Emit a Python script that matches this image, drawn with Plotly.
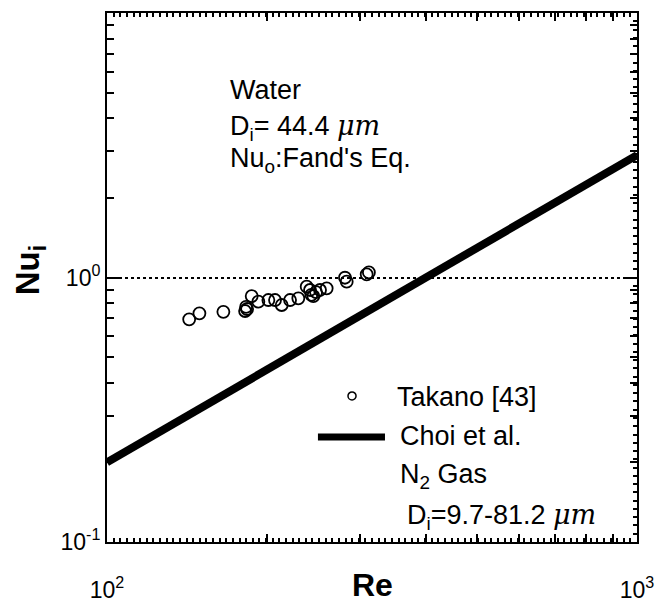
import plotly.graph_objects as go

# Takano [43] measurements (water, Di = 44.4 um)
takano_re = [142.9, 149.4, 165.8, 182.2, 183.8, 183.0, 187.5, 193.0, 201.6, 207.5,
             213.6, 221.5, 229.6, 238.1, 241.6, 245.1, 243.0, 248.0, 252.3, 259.7,
             281.2, 283.3, 309.0, 312.0]
takano_nu = [0.695, 0.732, 0.742, 0.747, 0.760, 0.774, 0.851, 0.810, 0.822, 0.822,
             0.787, 0.822, 0.834, 0.923, 0.897, 0.851, 0.860, 0.880, 0.897, 0.910,
             0.998, 0.964, 1.028, 1.045]

# Choi et al. correlation (N2 gas) over the plotted Re range
choi_re = [100, 1000]
choi_nu = [0.2, 2.9]

x_major = [100, 1000]
x_major_text = ["10<sup>2</sup>", "10<sup>3</sup>"]
x_minor = [200, 300, 400, 500, 600, 700, 800, 900]
y_major = [0.1, 1, 10]
y_major_text = ["10<sup>-1</sup>", "10<sup>0</sup>", "10<sup>1</sup>"]
y_minor = [0.2, 0.3, 0.4, 0.5, 0.6, 0.7, 0.8, 0.9, 2, 3, 4, 5, 6, 7, 8, 9]

TICKFONT = dict(family="Liberation Sans Narrow, Liberation Sans, Arial", size=23, color="black")
TEXTFONT = dict(family="Liberation Sans, Arial", size=27, color="black")
MU = '<span style="font-family:DejaVu Serif"><i>μm</i></span>'

fig = go.Figure()

fig.add_trace(go.Scatter(
    x=takano_re, y=takano_nu, mode="markers",
    marker=dict(symbol="circle-open", size=12, color="black", line=dict(width=1.8, color="black")),
    showlegend=False, hoverinfo="skip"))

fig.add_trace(go.Scatter(
    x=choi_re, y=choi_nu, mode="lines",
    line=dict(color="black", width=8),
    showlegend=False, hoverinfo="skip"))

# invisible trace that activates the fine-tick overlay axes
fig.add_trace(go.Scatter(x=[0.5], y=[0.5], xaxis="x2", yaxis="y2", mode="markers",
                         marker=dict(opacity=0, size=1),
                         showlegend=False, hoverinfo="skip"))

fig.update_layout(
    width=666, height=602,
    margin=dict(l=107, r=29, t=13, b=60, autoexpand=False),
    paper_bgcolor="white", plot_bgcolor="white",
    xaxis=dict(
        type="log", range=[2, 3],
        tickvals=x_major, ticktext=x_major_text,
        ticks="inside", ticklen=10, tickwidth=1.5, tickcolor="black",
        minor=dict(tickvals=x_minor, ticks="inside", ticklen=8, tickwidth=1.5,
                   tickcolor="black", showgrid=False),
        showline=True, linecolor="black", linewidth=2, mirror="allticks",
        showgrid=False, zeroline=False, automargin=False,
        tickfont=TICKFONT, ticklabelstandoff=26,
    ),
    yaxis=dict(
        type="log", range=[-1, 1],
        tickvals=y_major, ticktext=y_major_text,
        ticks="inside", ticklen=12, tickwidth=1.5, tickcolor="black",
        minor=dict(tickvals=y_minor, ticks="inside", ticklen=7, tickwidth=1.5,
                   tickcolor="black", showgrid=False),
        showline=True, linecolor="black", linewidth=2, mirror="allticks",
        showgrid=True, gridcolor="black", gridwidth=1.5, griddash="dot",
        zeroline=False, automargin=False, tickfont=TICKFONT,
    ),
    xaxis2=dict(
        overlaying="x", anchor="y", side="bottom", range=[0, 1],
        dtick=1 / 80, ticks="inside", ticklen=4, tickwidth=1.5, tickcolor="black",
        showticklabels=False, showgrid=False, zeroline=False,
        showline=True, linecolor="black", linewidth=2,
        mirror="allticks", automargin=False,
    ),
    yaxis2=dict(
        overlaying="y", anchor="x", side="right", range=[0, 1],
        dtick=1 / 64, ticks="inside", ticklen=4, tickwidth=1.5, tickcolor="black",
        showticklabels=False, showgrid=False, zeroline=False,
        showline=True, linecolor="black", linewidth=2,
        automargin=False,
    ),
)

annotations = [
    # axis titles
    dict(text="<b>Re</b>", x=0.5, y=-0.081, font=dict(family="Liberation Sans, Arial", size=32, color="black"),
         xanchor="center", yanchor="middle"),
    dict(text="<b>Nu<sub>i</sub></b>", x=-0.145, y=0.514, textangle=-90,
         font=dict(family="Liberation Sans, Arial", size=33, color="black"),
         xanchor="center", yanchor="middle"),
    # condition notes
    dict(text="Water", x=0.228, y=0.854, font=TEXTFONT, xanchor="left", yanchor="middle"),
    dict(text="D<sub>i</sub>= 44.4 " + MU, x=0.228, y=0.784, font=TEXTFONT, xanchor="left", yanchor="middle"),
    dict(text="Nu<sub>o</sub>:Fand's Eq.", x=0.228, y=0.722, font=TEXTFONT, xanchor="left", yanchor="middle"),
    # legend text
    dict(text="Takano [43]", x=0.543, y=0.274, font=TEXTFONT, xanchor="left", yanchor="middle"),
    dict(text="Choi et al.", x=0.549, y=0.2, font=TEXTFONT, xanchor="left", yanchor="middle"),
    dict(text="N<sub>2</sub> Gas", x=0.549, y=0.125, font=TEXTFONT, xanchor="left", yanchor="middle"),
    dict(text="D<sub>i</sub>=9.7-81.2 " + MU, x=0.562, y=0.049, font=TEXTFONT, xanchor="left", yanchor="middle"),
]
for a in annotations:
    a.update(xref="paper", yref="paper", showarrow=False)
fig.update_layout(annotations=annotations)

# legend keys
fig.add_shape(type="circle", xref="paper", yref="paper",
              x0=0.4623 - 0.0076, x1=0.4623 + 0.0076, y0=0.276 - 0.0076, y1=0.276 + 0.0076,
              line=dict(color="black", width=1.5))
fig.add_shape(type="line", xref="paper", yref="paper",
              x0=0.398, x1=0.5245, y0=0.1985, y1=0.1985,
              line=dict(color="black", width=7))

fig.write_html("out.html")
